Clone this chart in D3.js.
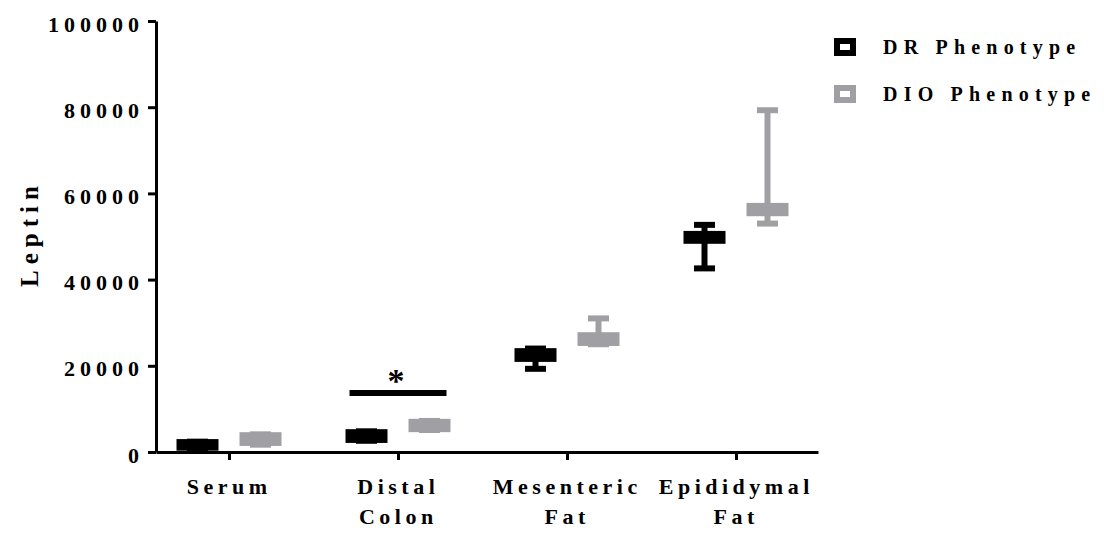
<!DOCTYPE html>
<html>
<head>
<meta charset="utf-8">
<script src="https://cdn.jsdelivr.net/npm/d3@7"></script>
<style>
  html, body { margin: 0; padding: 0; background: #fff; }
  svg { display: block; }
  text { font-family: "Liberation Serif", "Times New Roman", serif; font-weight: bold; fill: #000; }
</style>
</head>
<body>
<svg id="chart" width="1104" height="533"></svg>
<script>
// Tissue categories along the x axis (each label may wrap onto two lines)
const categories = ["Serum", "Distal Colon", "Mesenteric Fat", "Epididymal Fat"];
const categoryLines = [["Serum"], ["Distal", "Colon"], ["Mesenteric", "Fat"], ["Epididymal", "Fat"]];

// Phenotype groups
const groups = ["DR Phenotype", "DIO Phenotype"];
const groupColors = ["#000000", "#a09fa4"];

// Leptin box-plot summaries (min, Q1, median, Q3, max) per category
const drMin    = [700,   2600,  19300, 42600];
const drQ1     = [1000,  2800,  21600, 49000];
const drMedian = [1700,  3700,  22500, 49800];
const drQ3     = [2300,  4600,  23400, 50600];
const drMax    = [2400,  4800,  24000, 52700];

const dioMin    = [1700, 5100,  25000, 53000];
const dioQ1     = [2100, 5300,  25300, 55400];
const dioMedian = [3000, 6100,  26200, 56200];
const dioQ3     = [3900, 7000,  27100, 57100];
const dioMax    = [4100, 7200,  31000, 79300];

// Y axis ticks
const yTicks = [0, 20000, 40000, 60000, 80000, 100000];

// Significance marker between the two groups
const sigCategory = "Distal Colon";
const sigValue = 13700;
const sigLabel = "*";

const series = [
  { name: groups[0], color: groupColors[0], min: drMin, q1: drQ1, med: drMedian, q3: drQ3, max: drMax },
  { name: groups[1], color: groupColors[1], min: dioMin, q1: dioQ1, med: dioMedian, q3: dioQ3, max: dioMax }
];

const svg = d3.select("#chart");
const axisX0 = 156, axisX1 = 818;

const y = d3.scaleLinear().domain([0, 100000]).range([452, 21]);
const x = d3.scalePoint().domain(categories).range([axisX0, axisX1]).padding(0.4586).align(0.471);
const inner = d3.scalePoint().domain(groups).range([-31.5, 31.5]);

const boxW = 36, capW = 21, lw = 6;

// Y axis
const tickLs = 5;
const yAxis = svg.append("g")
  .attr("transform", `translate(${axisX0},0)`)
  .call(d3.axisLeft(y).tickValues(yTicks).tickSize(8).tickSizeOuter(0).tickPadding(9).tickFormat(d3.format("d")));
yAxis.select(".domain").attr("stroke-width", 3);
yAxis.selectAll(".tick line").attr("stroke-width", 3);
yAxis.selectAll(".tick text")
  .attr("font-size", 22).attr("letter-spacing", tickLs).attr("dx", tickLs).attr("dy", "0.46em")
  .attr("font-family", "Liberation Serif").attr("font-weight", "bold").attr("fill", "#000");

// X axis
const xAxis = svg.append("g")
  .attr("transform", `translate(0,${y(0)})`)
  .call(d3.axisBottom(x).tickSize(8).tickSizeOuter(0).tickFormat(""));
xAxis.select(".domain").attr("stroke-width", 3);
xAxis.selectAll(".tick line").attr("stroke-width", 3);

// Wrapped category labels
const xLs = 4.5;
const labels = svg.append("g").selectAll("text").data(categories).join("text")
  .attr("y", 494)
  .attr("text-anchor", "middle")
  .attr("font-size", 22)
  .attr("letter-spacing", xLs);
labels.selectAll("tspan").data((d, i) => categoryLines[i].map(t => ({ t, c: d }))).join("tspan")
  .attr("x", d => x(d.c) + xLs / 2 - 2)
  .attr("dy", (d, i) => i === 0 ? 0 : 30)
  .text(d => d.t);

// Y axis title
svg.append("text")
  .attr("transform", `translate(38,${(y(0) + y(100000)) / 2}) rotate(-90)`)
  .attr("text-anchor", "middle")
  .attr("dx", 3)
  .attr("font-size", 25)
  .attr("letter-spacing", 6)
  .text("Leptin");

// Box plots
series.forEach(s => {
  const g = svg.append("g");
  categories.forEach((c, i) => {
    const cx = x(c) + inner(s.name);
    g.append("line").attr("x1", cx).attr("x2", cx).attr("y1", y(s.min[i])).attr("y2", y(s.max[i]))
      .attr("stroke", s.color).attr("stroke-width", lw);
    [s.min[i], s.max[i]].forEach(v => {
      g.append("line").attr("x1", cx - capW / 2).attr("x2", cx + capW / 2).attr("y1", y(v)).attr("y2", y(v))
        .attr("stroke", s.color).attr("stroke-width", lw);
    });
    g.append("rect").attr("x", cx - boxW / 2).attr("width", boxW)
      .attr("y", y(s.q3[i])).attr("height", y(s.q1[i]) - y(s.q3[i]))
      .attr("fill", "#fff").attr("stroke", s.color).attr("stroke-width", lw);
    g.append("line").attr("x1", cx - boxW / 2).attr("x2", cx + boxW / 2)
      .attr("y1", y(s.med[i])).attr("y2", y(s.med[i]))
      .attr("stroke", s.color).attr("stroke-width", lw);
  });
});

// Significance bar and asterisk
const sx0 = x(sigCategory) + inner(groups[0]) - 17;
const sx1 = x(sigCategory) + inner(groups[1]) + 17;
svg.append("line").attr("x1", sx0).attr("x2", sx1).attr("y1", y(sigValue)).attr("y2", y(sigValue))
  .attr("stroke", "#000").attr("stroke-width", lw);
svg.append("text")
  .attr("x", (sx0 + sx1) / 2 - 2)
  .attr("y", y(sigValue) - 1)
  .attr("text-anchor", "middle")
  .attr("font-size", 34)
  .attr("font-weight", "normal")
  .text(sigLabel);

// Legend
const legLs = 6.2;
const legend = svg.append("g").selectAll("g").data(series).join("g")
  .attr("transform", (d, i) => `translate(845,${47 + i * 47})`);
legend.append("rect").attr("x", -8).attr("y", -6).attr("width", 16).attr("height", 12)
  .attr("fill", "#fff").attr("stroke", d => d.color).attr("stroke-width", 6);
legend.append("text")
  .attr("x", 38).attr("y", 7)
  .attr("font-size", 20)
  .attr("letter-spacing", legLs)
  .text(d => d.name);
</script>
</body>
</html>
